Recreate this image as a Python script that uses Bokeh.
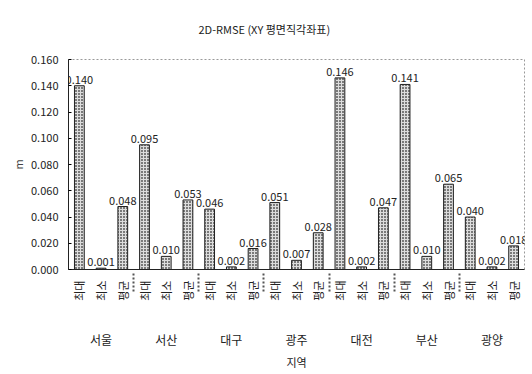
import math
from bokeh.plotting import figure
from bokeh.models import (FactorRange, ColumnDataSource, Range1d, FixedTicker,
                          NumeralTickFormatter, CategoricalAxis)
from bokeh.embed import file_html
from bokeh.resources import INLINE
from bokeh.core.properties import value

FONT = "Noto Sans CJK KR"

regions = ["서울", "서산", "대구", "광주", "대전", "부산", "광양"]
stats = ["최대", "최소", "평균"]
max_vals = [0.140, 0.095, 0.046, 0.051, 0.146, 0.141, 0.040]
min_vals = [0.001, 0.010, 0.002, 0.007, 0.002, 0.010, 0.002]
avg_vals = [0.048, 0.053, 0.016, 0.028, 0.047, 0.065, 0.018]
y_ticks = [0.0, 0.02, 0.04, 0.06, 0.08, 0.10, 0.12, 0.14, 0.16]
title_text = "2D-RMSE (XY 평면직각좌표)"

factors, vals = [], []
for i, r in enumerate(regions):
    for s, v in zip(stats, (max_vals[i], min_vals[i], avg_vals[i])):
        factors.append((r, s))
        vals.append(v)
labels = ["%.3f" % v for v in vals]

src = ColumnDataSource(data=dict(x=factors, y=vals, lab=labels))

p = figure(width=532, height=374, output_backend="svg", toolbar_location=None,
           x_range=FactorRange(*factors, factor_padding=0, group_padding=0, range_padding=0),
           y_range=Range1d(0, 0.16),
           min_border_left=68, min_border_right=8, min_border_top=59, min_border_bottom=105)

p.title.text = title_text
p.title.align = "left"
p.title.offset = 130
p.title.standoff = 41
p.title.vertical_align = "top"
p.title.text_font = FONT
p.title.text_font_size = "11px"
p.title.text_font_style = "normal"
p.title.text_color = "#222222"

p.vbar(x="x", top="y", width=0.45, source=src, fill_color="#7a7a7a",
       line_color="#222222", line_width=1, hatch_pattern="+", hatch_color="#dddddd",
       hatch_scale=3, hatch_weight=1)

p.text(x="x", y="y", text="lab", source=src, text_align="center", text_baseline="bottom",
       y_offset=-2, text_font=value(FONT), text_font_size="11px", text_color="#222222")

p.xgrid.grid_line_color = None
p.ygrid.grid_line_color = None
p.outline_line_color = "#999999"
p.outline_line_dash = "2 2"

p.yaxis.ticker = FixedTicker(ticks=y_ticks)
p.yaxis.formatter = NumeralTickFormatter(format="0.000")
p.yaxis.axis_label = "m"
p.yaxis.axis_label_text_font = FONT
p.yaxis.axis_label_text_font_size = "11px"
p.yaxis.axis_label_text_font_style = "normal"
p.yaxis.axis_label_standoff = 2
p.yaxis.major_label_text_font = FONT
p.yaxis.major_label_text_font_size = "11px"
p.yaxis.major_label_text_color = "#222222"
p.yaxis.major_label_standoff = 10
p.yaxis.minor_tick_line_color = None
p.yaxis.major_tick_in = 3
p.yaxis.major_tick_out = 0
p.yaxis.axis_line_color = "#222222"

xa = p.xaxis[0]
xa.major_label_orientation = math.pi / 2
xa.major_label_text_font = FONT
xa.major_label_text_font_size = "11px"
xa.major_label_text_color = "#222222"
xa.group_text_font = FONT
xa.group_text_font_size = "16px"
xa.group_text_alpha = 0
xa.separator_line_color = "#555555"
xa.separator_line_dash = "2 2"
xa.major_tick_line_color = None
xa.axis_line_color = "#222222"

# second axis for region names
p.extra_x_ranges = {"grp": FactorRange(*regions, factor_padding=0, range_padding=0)}
ga = CategoricalAxis(x_range_name="grp")
ga.axis_line_color = None
ga.major_tick_line_color = None
ga.minor_tick_line_color = None
ga.major_label_standoff = 21
ga.major_label_text_font = FONT
ga.major_label_text_font_size = "12px"
ga.major_label_text_color = "#222222"
ga.axis_label = "지역"
ga.axis_label_standoff = 3
ga.axis_label_text_font = FONT
ga.axis_label_text_font_size = "11px"
ga.axis_label_text_font_style = "normal"
ga.axis_label_text_color = "#222222"
p.add_layout(ga, "below")

open("out.html", "w").write(file_html(p, INLINE))
